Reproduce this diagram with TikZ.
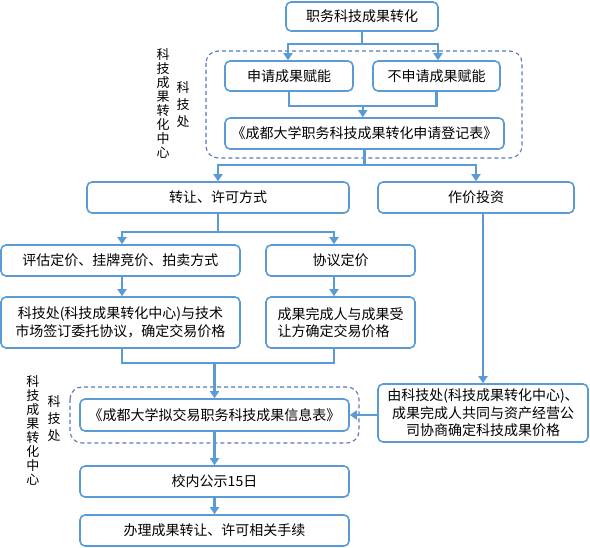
\documentclass[tikz,border=0pt]{standalone}
\usepackage{fontspec}
\setmainfont{Noto Sans CJK SC}
\usetikzlibrary{arrows.meta,calc}
\definecolor{boxblue}{HTML}{5B9BD5}
\definecolor{dashblue}{HTML}{5A78B8}

\begin{document}
\begin{tikzpicture}[
		x=1pt, y=-1pt,
		box/.style={draw=boxblue, line width=1.6pt, rounded corners=5pt, fill=white, inner sep=0pt, align=center, font=\fontsize{14}{17.5}\selectfont},
		group/.style={draw=dashblue, line width=1.1pt, dash pattern=on 4pt off 3pt, rounded corners=12pt},
		link/.style={boxblue, line width=2.4pt},
		arr/.style={link, -{Triangle[width=9pt,length=7pt]}},
		side/.style={inner sep=0pt, align=center, font=\fontsize{13}{14}\selectfont},
		sidewide/.style={side, font=\fontsize{13}{17}\selectfont}]
		
		\useasboundingbox (0,0) rectangle (590,548);
		
		% dashed groups
		\draw[group] (206,51) rectangle (522,158);
		\draw[group] (70,387) rectangle (359,443);
		
		\node[box, minimum width=152, minimum height=29] (top) at (362,16.5) {职务科技成果转化};
		\node[box, minimum width=128, minimum height=30] (sq)  at (289,76)   {申请成果赋能};
		\node[box, minimum width=127, minimum height=30] (bsq) at (436.5,76) {不申请成果赋能};
		\node[box, minimum width=279, minimum height=31] (djb) at (364.5,133.5) {《成都大学职务科技成果转化申请登记表》};
		\node[box, minimum width=262, minimum height=31] (zr)  at (218,197.5) {转让、许可方式};
		\node[box, minimum width=196, minimum height=31] (zj)  at (476,197.5) {作价投资};
		\node[box, minimum width=239, minimum height=31] (pg)  at (120.5,260.5) {评估定价、挂牌竞价、拍卖方式};
		\node[box, minimum width=149, minimum height=31] (xy)  at (340.5,260.5) {协议定价};
		\node[box, minimum width=239, minimum height=51] (wt)  at (120.5,322.5) {科技处(科技成果转化中心)与技术\\市场签订委托协议，确定交易价格};
		\node[box, minimum width=149, minimum height=51, align=left] (sr) at (340.5,322.5) {成果完成人与成果受\\让方确定交易价格};
		\node[box, minimum width=269, minimum height=32] (xxb) at (214.5,415) {《成都大学拟交易职务科技成果信息表》};
		\node[box, minimum width=210, minimum height=58] (xs)  at (483,413) {由科技处(科技成果转化中心)、\\成果完成人共同与资产经营公\\司协商确定科技成果价格};
		\node[box, minimum width=269, minimum height=31] (gs)  at (214.5,481.5) {校内公示15日};
		\node[box, minimum width=269, minimum height=31] (bl)  at (214.5,530.5) {办理成果转让、许可相关手续};
		
		\node[side]     (kz1) at (163,103.5) {科\\技\\成\\果\\转\\化\\中\\心};
		\node[sidewide] (kc1) at (183,105)   {科\\技\\处};
		\node[side]     (kz2) at (33,430)    {科\\技\\成\\果\\转\\化\\中\\心};
		\node[sidewide] (kc2) at (54,419)    {科\\技\\处};
		
		\draw[link] (top.south) -- ++(0,12) coordinate (j1);
		\draw[arr] (j1) -| ([xshift=-1pt]sq.north);
		\draw[arr] (j1) -| ([xshift=1.5pt]bsq.north);
		
		\draw[link] (sq.south) -- ++(0,14) -| (bsq.south);
		\coordinate (j2) at ($(sq.south)!0.5!(bsq.south)+(0,14)$);
		\draw[arr] (j2) -- (j2 |- djb.north);
		
		\draw[link] (djb.south) -- ++(0,15) coordinate (j3);
		\draw[arr] (j3) -| (zr.north);
		\draw[arr] (j3) -| (zj.north);
		
		\draw[link] (zr.south) -- ++(0,18) coordinate (j4);
		\draw[arr] (j4) -| ([xshift=1.5pt]pg.north);
		\draw[arr] (j4) -| ([xshift=-6.5pt]xy.north);
		\draw[arr] ([xshift=1.5pt]pg.south) -- ([xshift=1.5pt]wt.north);
		\draw[arr] ([xshift=-6.5pt]xy.south) -- ([xshift=-6.5pt]sr.north);
		
		\draw[link] ([xshift=1.5pt]wt.south) -- ++(0,14) -| ([xshift=-6.5pt]sr.south);
		\draw[arr] ($(wt.south -| xxb.north)+(0,14)$) -- (xxb.north);
		
		\draw[arr] ([xshift=7pt]zj.south) -- (xs.north);
		\draw[arr] (xs.west |- xxb.east) -- (xxb.east);
		
		\draw[arr] (xxb.south) -- (gs.north);
		\draw[arr] (gs.south) -- (bl.north);
		
\end{tikzpicture}
\end{document}
